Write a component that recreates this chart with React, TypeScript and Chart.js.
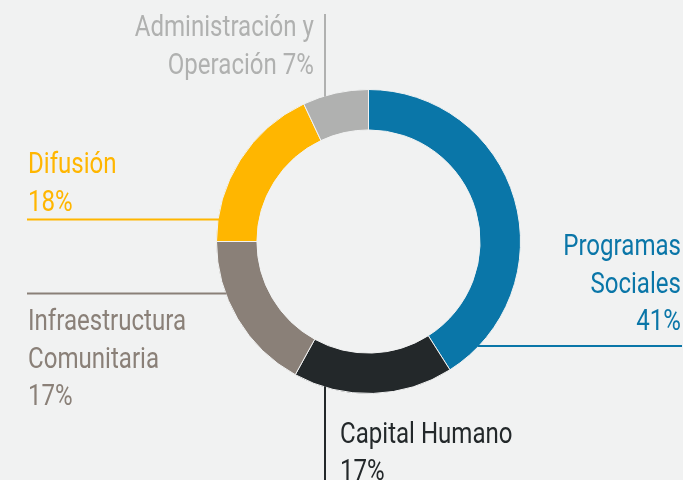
import React, { useEffect, useRef } from "react";
import { Chart, registerables } from "chart.js";

Chart.register(...registerables);

const categories = [
  "Programas Sociales",
  "Capital Humano",
  "Infraestructura Comunitaria",
  "Difusión",
  "Administración y Operación",
];
const values = [41, 17, 17, 18, 7];
const colors = ["#0a76a8", "#23282a", "#8a8078", "#ffb600", "#b0b1b0"];
const labelLines = [
  ["Programas", "Sociales", "41%"],
  ["Capital Humano", "17%"],
  ["Infraestructura", "Comunitaria", "17%"],
  ["Difusión", "18%"],
  ["Administración y", "Operación 7%"],
];

const BG = "#f1f2f2";
const FONT = "29px Roboto, 'Noto Sans', sans-serif";
const XSCALE = 0.83;

// layout of callouts: leader line + text block
const callouts = [
  { kind: "h", y: 346, to: 682, side: "right", tx: 681, ty: [255, 292.5, 330], align: "right" },
  { kind: "v", x: 325, to: 480, side: "down", tx: 340, ty: [442.5, 480], align: "left" },
  { kind: "h", y: 293.5, to: 27, side: "left", tx: 28, ty: [330, 367.5, 405], align: "left" },
  { kind: "h", y: 219.5, to: 27, side: "left", tx: 28, ty: [173, 210.5], align: "left" },
  { kind: "v", x: 325, to: 14, side: "up", tx: 314, ty: [36, 73.5], align: "right" },
];

const calloutPlugin = {
  id: "callouts",
  afterDatasetsDraw(chart: any) {
    const meta = chart.getDatasetMeta(0);
    const arc = meta.data[0];
    if (!arc) return;
    const cx = arc.x;
    const cy = arc.y;
    const R = arc.outerRadius;
    const ctx = chart.ctx;
    ctx.save();
    callouts.forEach((c, i) => {
      const col = colors[i];
      ctx.strokeStyle = col;
      ctx.lineWidth = 2;
      ctx.beginPath();
      if (c.kind === "h") {
        const dy = (c.y as number) - cy;
        const dx = Math.sqrt(Math.max(R * R - dy * dy, 0));
        const xs = c.side === "left" ? cx - dx + 1 : cx + dx - 1;
        ctx.moveTo(xs, c.y as number);
        ctx.lineTo(c.to, c.y as number);
      } else {
        const dx = (c.x as number) - cx;
        const dy = Math.sqrt(Math.max(R * R - dx * dx, 0));
        const ys = c.side === "up" ? cy - dy + 1 : cy + dy - 1;
        ctx.moveTo(c.x as number, ys);
        ctx.lineTo(c.x as number, c.to);
      }
      ctx.stroke();
      ctx.fillStyle = col;
      ctx.font = FONT;
      ctx.textAlign = c.align;
      ctx.textBaseline = "alphabetic";
      labelLines[i].forEach((t, j) => {
        ctx.save();
        ctx.translate(c.tx, c.ty[j]);
        ctx.scale(XSCALE, 1);
        ctx.fillText(t, 0, 0);
        ctx.restore();
      });
    });
    ctx.restore();
  },
};

export default function App() {
  const ref = useRef<HTMLCanvasElement>(null);
  useEffect(() => {
    document.body.style.margin = "0";
    const chart = new Chart(ref.current!, {
      type: "doughnut",
      data: {
        labels: categories,
        datasets: [
          {
            data: values,
            backgroundColor: colors,
            borderColor: BG,
            borderWidth: 1,
          },
        ],
      },
      options: {
        animation: false,
        responsive: false,
        cutout: "73.4%",
        layout: { padding: { top: 89, bottom: 86, left: 54, right: 0 } },
        plugins: {
          legend: { display: false },
          tooltip: { enabled: false },
        },
      },
      plugins: [calloutPlugin],
    });
    return () => chart.destroy();
  }, []);
  return (
    <div style={{ position: "fixed", left: 0, top: 0, width: 683, height: 480, background: BG }}>
      <canvas ref={ref} width={683} height={480} style={{ width: 683, height: 480, display: "block" }} />
    </div>
  );
}
